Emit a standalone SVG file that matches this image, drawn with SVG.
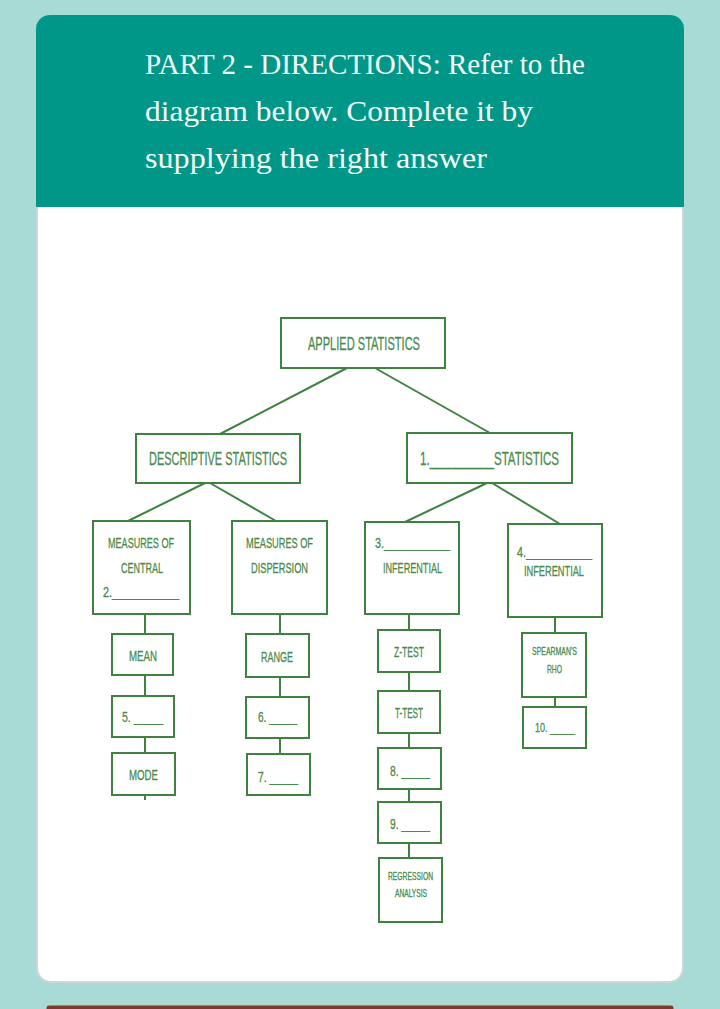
<svg xmlns="http://www.w3.org/2000/svg" width="720" height="1009" viewBox="0 0 720 1009">
<style>
.bx{fill:#fff;stroke:#3f8240;stroke-width:2}
.cn line{stroke:#3f8240;stroke-width:2}
.t{font-family:"Liberation Sans",Arial,sans-serif;fill:#4a8a4b;stroke:#4a8a4b;stroke-width:0.3}
.h{font-family:"Liberation Serif","Times New Roman",serif;font-size:29px;fill:#f4fffb}
</style>
<rect x="0" y="0" width="720" height="1009" fill="#a8dbd6"/>
<rect x="46" y="1005" width="628" height="8" rx="3" fill="#7a3b2e" stroke="#c9c9c9" stroke-width="1"/>
<rect x="37" y="16" width="646" height="966" rx="14" fill="#fff" stroke="#cfd6d5" stroke-width="2"/>
<path d="M36 207 V29 a14 14 0 0 1 14 -14 H670 a14 14 0 0 1 14 14 V207 Z" fill="#009688"/>
<g id="header">
<text class="h" x="145" y="74" textLength="440" lengthAdjust="spacingAndGlyphs">PART 2 - DIRECTIONS: Refer to the</text>
<text class="h" x="145" y="121" textLength="388" lengthAdjust="spacingAndGlyphs">diagram below. Complete it by</text>
<text class="h" x="145" y="168" textLength="342" lengthAdjust="spacingAndGlyphs">supplying the right answer</text>
</g>
<g id="connectors" class="cn">
<line x1="347" y1="368" x2="220" y2="434"/>
<line x1="375" y1="368" x2="490" y2="433"/>
<line x1="205" y1="483" x2="128" y2="521"/>
<line x1="210" y1="483" x2="276" y2="521"/>
<line x1="487" y1="483" x2="405" y2="522"/>
<line x1="492" y1="483" x2="560" y2="524"/>
<line x1="145" y1="614" x2="145" y2="634"/>
<line x1="145" y1="675" x2="145" y2="696"/>
<line x1="145" y1="737" x2="145" y2="753"/>
<line x1="145" y1="795" x2="145" y2="800"/>
<line x1="280" y1="614" x2="280" y2="634"/>
<line x1="280" y1="677" x2="280" y2="697"/>
<line x1="280" y1="738" x2="280" y2="754"/>
<line x1="409" y1="614" x2="409" y2="630"/>
<line x1="409" y1="672" x2="409" y2="691"/>
<line x1="409" y1="733" x2="409" y2="748"/>
<line x1="409" y1="789" x2="409" y2="802"/>
<line x1="409" y1="843" x2="409" y2="858"/>
<line x1="555" y1="617" x2="555" y2="633"/>
<line x1="555" y1="697" x2="555" y2="707"/>
</g>
<g id="applied">
<rect class="bx" x="281" y="318" width="164" height="50"/>
<text class="t" x="308" y="350" font-size="19" textLength="112" lengthAdjust="spacingAndGlyphs">APPLIED STATISTICS</text>
</g>
<g id="descriptive">
<rect class="bx" x="136" y="434" width="164" height="49"/>
<text class="t" x="149" y="465" font-size="19" textLength="138" lengthAdjust="spacingAndGlyphs">DESCRIPTIVE STATISTICS</text>
</g>
<g id="blank1">
<rect class="bx" x="407" y="433" width="165" height="50"/>
<text class="t" x="420" y="465" font-size="19" textLength="139" lengthAdjust="spacingAndGlyphs">1.__________STATISTICS</text>
</g>
<g id="central">
<rect class="bx" x="93" y="521" width="97" height="93"/>
<text class="t" x="108" y="548" font-size="15" textLength="66" lengthAdjust="spacingAndGlyphs">MEASURES OF</text>
<text class="t" x="121" y="573" font-size="15" textLength="42" lengthAdjust="spacingAndGlyphs">CENTRAL</text>
<text class="t" x="103" y="597" font-size="15" textLength="76" lengthAdjust="spacingAndGlyphs">2.___________</text>
</g>
<g id="dispersion">
<rect class="bx" x="232" y="521" width="95" height="93"/>
<text class="t" x="246" y="548" font-size="15" textLength="67" lengthAdjust="spacingAndGlyphs">MEASURES OF</text>
<text class="t" x="251" y="573" font-size="15" textLength="57" lengthAdjust="spacingAndGlyphs">DISPERSION</text>
</g>
<g id="blank3">
<rect class="bx" x="365" y="522" width="94" height="92"/>
<text class="t" x="375" y="548" font-size="15" textLength="75" lengthAdjust="spacingAndGlyphs">3.___________</text>
<text class="t" x="383" y="573" font-size="15" textLength="59" lengthAdjust="spacingAndGlyphs">INFERENTIAL</text>
</g>
<g id="blank4">
<rect class="bx" x="508" y="524" width="94" height="93"/>
<text class="t" x="517" y="557" font-size="15" textLength="75" lengthAdjust="spacingAndGlyphs">4.___________</text>
<text class="t" x="524" y="576" font-size="15" textLength="60" lengthAdjust="spacingAndGlyphs">INFERENTIAL</text>
</g>
<g id="mean">
<rect class="bx" x="112" y="634" width="61" height="41"/>
<text class="t" x="129" y="661" font-size="15" textLength="28" lengthAdjust="spacingAndGlyphs">MEAN</text>
</g>
<g id="blank5">
<rect class="bx" x="112" y="696" width="62" height="41"/>
<text class="t" x="122" y="722" font-size="15" textLength="41" lengthAdjust="spacingAndGlyphs">5. _____</text>
</g>
<g id="mode">
<rect class="bx" x="112" y="753" width="63" height="42"/>
<text class="t" x="129" y="780" font-size="15" textLength="29" lengthAdjust="spacingAndGlyphs">MODE</text>
</g>
<g id="range">
<rect class="bx" x="246" y="634" width="63" height="43"/>
<text class="t" x="261" y="662" font-size="15" textLength="32" lengthAdjust="spacingAndGlyphs">RANGE</text>
</g>
<g id="blank6">
<rect class="bx" x="246" y="697" width="63" height="41"/>
<text class="t" x="258" y="722" font-size="15" textLength="39" lengthAdjust="spacingAndGlyphs">6. _____</text>
</g>
<g id="blank7">
<rect class="bx" x="247" y="754" width="63" height="41"/>
<text class="t" x="258" y="782" font-size="15" textLength="40" lengthAdjust="spacingAndGlyphs">7. _____</text>
</g>
<g id="ztest">
<rect class="bx" x="378" y="630" width="62" height="42"/>
<text class="t" x="394" y="657" font-size="15" textLength="30" lengthAdjust="spacingAndGlyphs">Z-TEST</text>
</g>
<g id="ttest">
<rect class="bx" x="378" y="691" width="62" height="42"/>
<text class="t" x="395" y="718" font-size="15" textLength="28" lengthAdjust="spacingAndGlyphs">T-TEST</text>
</g>
<g id="blank8">
<rect class="bx" x="378" y="748" width="63" height="41"/>
<text class="t" x="390" y="776" font-size="15" textLength="40" lengthAdjust="spacingAndGlyphs">8. _____</text>
</g>
<g id="blank9">
<rect class="bx" x="378" y="802" width="63" height="41"/>
<text class="t" x="390" y="829" font-size="15" textLength="40" lengthAdjust="spacingAndGlyphs">9. _____</text>
</g>
<g id="regression">
<rect class="bx" x="379" y="858" width="63" height="64"/>
<text class="t" x="388" y="880" font-size="10.5" textLength="45" lengthAdjust="spacingAndGlyphs">REGRESSION</text>
<text class="t" x="395" y="897" font-size="10.5" textLength="32" lengthAdjust="spacingAndGlyphs">ANALYSIS</text>
</g>
<g id="spearman">
<rect class="bx" x="522" y="633" width="64" height="64"/>
<text class="t" x="532" y="655" font-size="10.5" textLength="45" lengthAdjust="spacingAndGlyphs">SPEARMAN'S</text>
<text class="t" x="547" y="673" font-size="10.5" textLength="15" lengthAdjust="spacingAndGlyphs">RHO</text>
</g>
<g id="blank10">
<rect class="bx" x="523" y="707" width="63" height="41"/>
<text class="t" x="535" y="732" font-size="13" textLength="40" lengthAdjust="spacingAndGlyphs">10. _____</text>
</g>
</svg>
